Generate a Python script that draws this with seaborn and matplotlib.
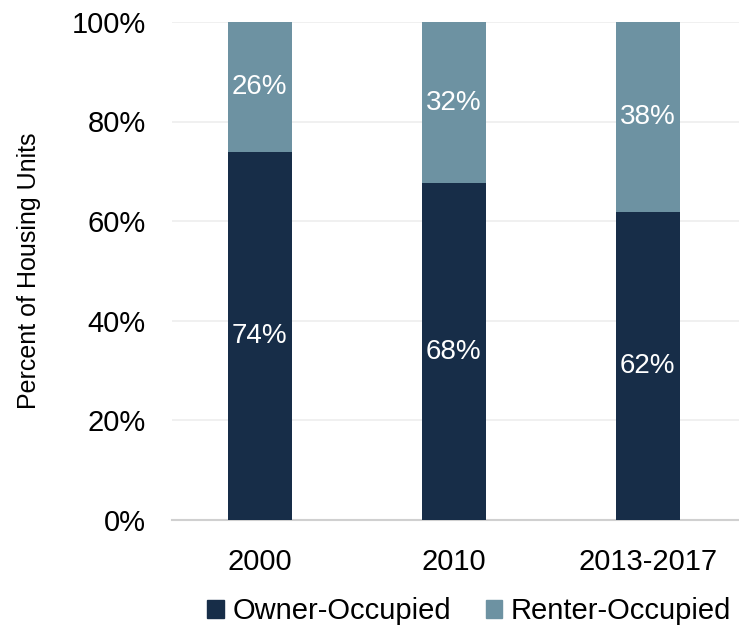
import matplotlib
matplotlib.use("Agg")
import matplotlib.pyplot as plt
import seaborn as sns
import pandas as pd
from matplotlib.patches import Patch

years = ["2000", "2010", "2013-2017"]
owner = [73.8, 67.6, 61.8]
renter = [26.2, 32.4, 38.2]

owner_color = "#172D48"
renter_color = "#6D92A2"

sns.set_theme(style="white")
plt.rcParams['font.family'] = ['Liberation Sans', 'DejaVu Sans']
plt.rcParams['text.color'] = 'black'
plt.rcParams['xtick.color'] = 'black'
plt.rcParams['ytick.color'] = 'black'
plt.rcParams['axes.labelcolor'] = 'black'

df = pd.DataFrame({"year": years, "owner": owner, "renter": renter})
df["total"] = df["owner"] + df["renter"]

fig = plt.figure(figsize=(7.39, 6.25), dpi=100)
ax = fig.add_axes([0.233, 0.168, 0.767, 0.797])

# renter stacked on top of owner: draw total first, owner over it
sns.barplot(data=df, x="year", y="total", color=renter_color, width=0.33,
            saturation=1, linewidth=0, ax=ax, zorder=2)
sns.barplot(data=df, x="year", y="owner", color=owner_color, width=0.33,
            saturation=1, linewidth=0, ax=ax, zorder=3)

for i, row in df.iterrows():
    ax.text(i, row["owner"] / 2, f"{row['owner']:.0f}%", ha="center", va="center",
            color="white", fontsize=20, zorder=4)
    ax.text(i, row["owner"] + row["renter"] / 2, f"{row['renter']:.0f}%",
            ha="center", va="center", color="white", fontsize=20, zorder=4)

ax.set_ylim(0, 100)
ax.set_xlim(-0.45, 2.47)
ax.set_yticks(range(0, 101, 20))
ax.set_yticklabels([f"{v}%" for v in range(0, 101, 20)], fontsize=21)
ax.tick_params(axis="x", labelsize=21, pad=20, length=0)
ax.tick_params(axis="y", pad=19, length=0)
ax.set_xlabel("")
ax.set_ylabel("Percent of Housing Units", fontsize=18, labelpad=22)
ax.yaxis.grid(True, color="#EEEEEE", linewidth=1.2, zorder=0)
for s in ["top", "right", "left"]:
    ax.spines[s].set_visible(False)
ax.spines["bottom"].set_color("#D0D0D0")
ax.spines["bottom"].set_linewidth(1.5)

handles = [Patch(color=owner_color, label="Owner-Occupied"),
           Patch(color=renter_color, label="Renter-Occupied")]
fig.legend(handles=handles, loc="center", bbox_to_anchor=(0.635, 0.022), ncol=2,
           frameon=False, fontsize=21, handlelength=0.55, handleheight=0.55,
           handletextpad=0.3, columnspacing=1.2)

fig.savefig("out.png", dpi=100)
